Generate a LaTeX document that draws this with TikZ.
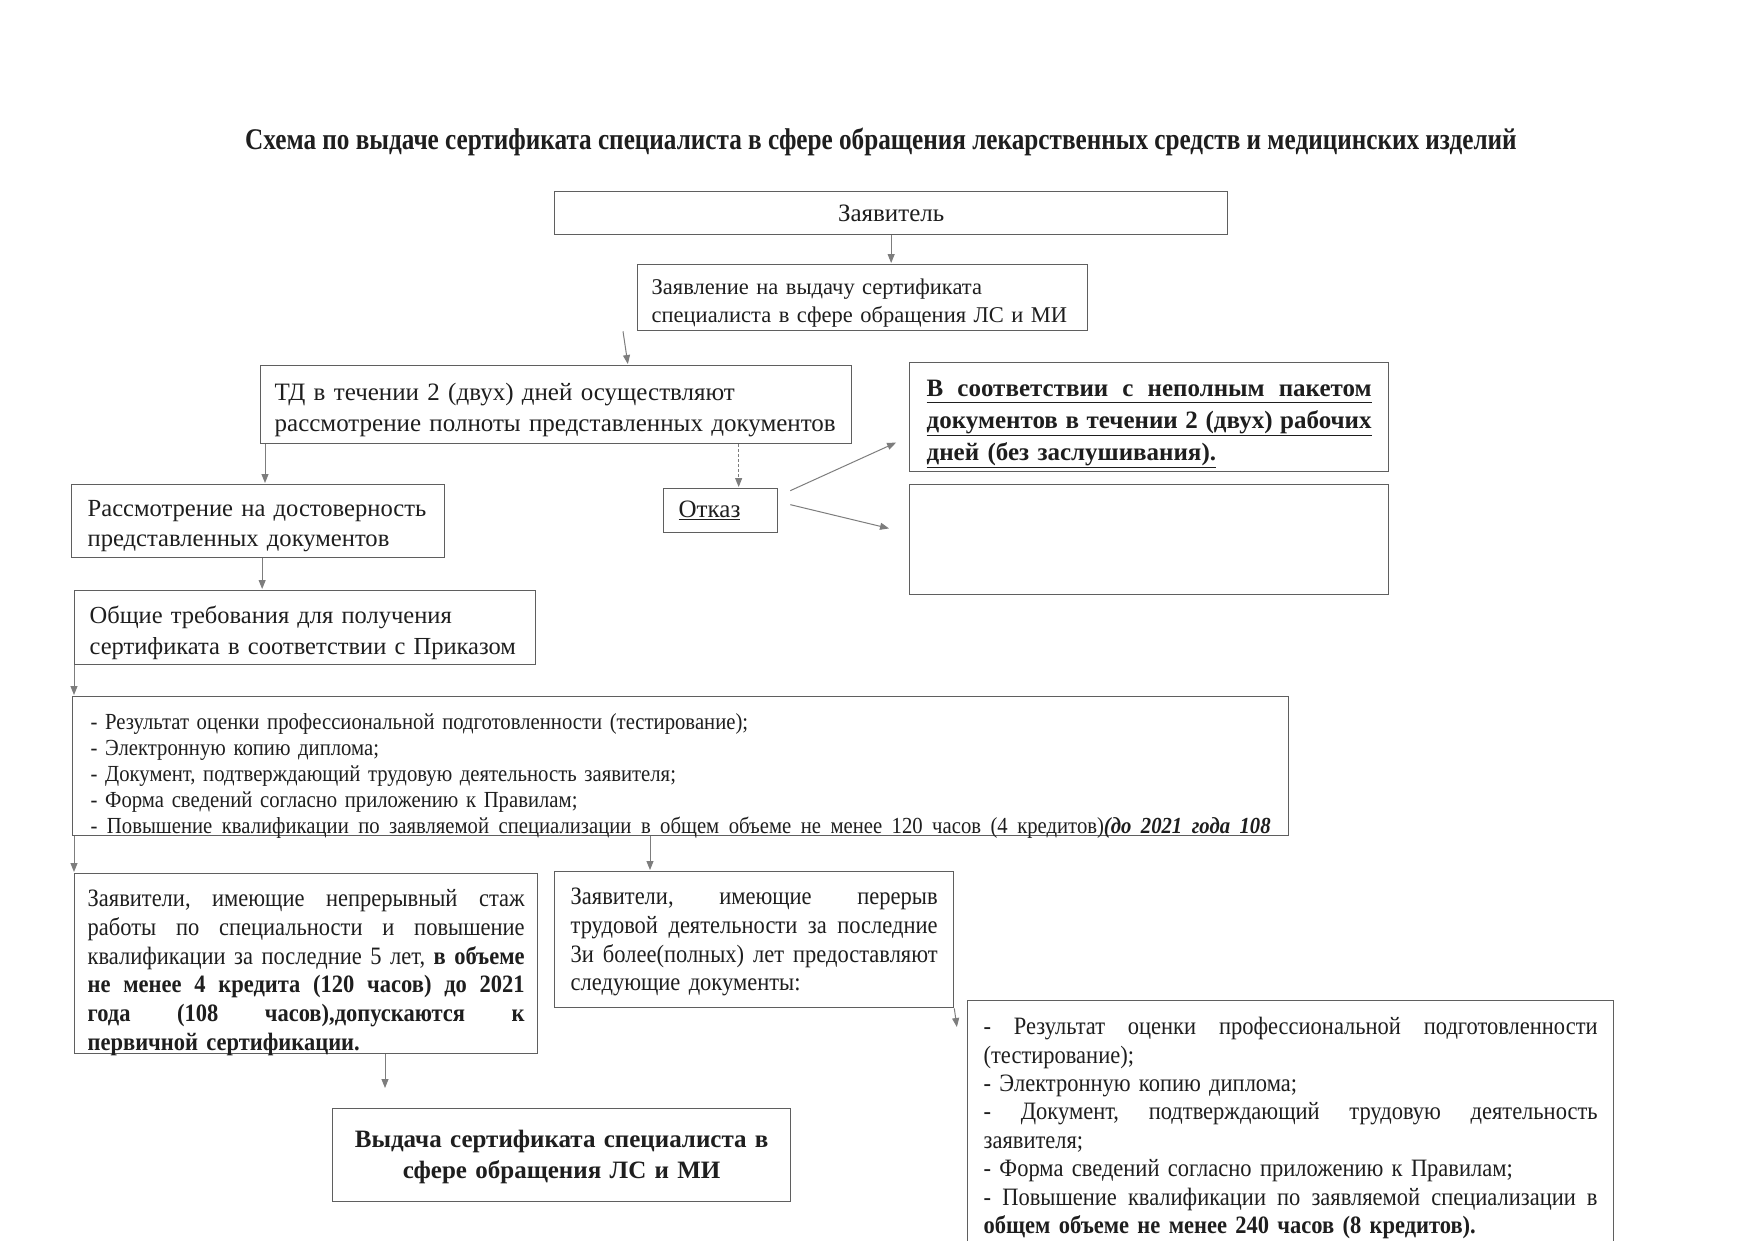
\documentclass[tikz,border=0pt]{standalone}
\usepackage{fontspec}
\setmainfont{Liberation Serif}
\newfontfamily\narrowfont[FakeStretch=0.9]{Liberation Serif}
\newfontfamily\titlefont[FakeStretch=0.84]{Liberation Serif}
\usetikzlibrary{arrows.meta,positioning,calc}
\definecolor{FrameGray}{RGB}{95,95,95}
\definecolor{ArrowGray}{RGB}{125,125,125}
\definecolor{InkBlack}{RGB}{30,30,30}
% justified line, first/last line room
\newcommand{\fullline}[1]{\makebox[\hsize][s]{\frenchspacing\spaceskip=0.25em plus 1fil\relax#1}}
\newcommand{\ulline}[1]{\underline{\fullline{\vphantom{д}#1}}}
\newcommand{\headroom}[1]{\rule{0pt}{#1}}
\newcommand{\footroom}[1]{\rule[-#1]{0pt}{0pt}}

\begin{document}
\begin{tikzpicture}[x=1pt,y=-1pt,
 box/.style={draw=FrameGray,line width=1.3pt,anchor=north west,align=left,
  inner xsep=15pt,inner ysep=0pt,text=InkBlack},
 arr/.style={draw=ArrowGray,line width=1pt,shorten >=1pt,
  -{Triangle[length=9pt,width=7pt]}}]
\useasboundingbox (0,0) rectangle (1755,1240);
\clip (0,0) rectangle (1755,1240);
\fill[white] (0,0) rectangle (1755,1240);

\node (title) [text=InkBlack,font=\titlefont\bfseries\fontsize{30}{34}\selectfont] at (881,142)
 {Схема по выдаче сертификата специалиста в сфере обращения лекарственных средств и медицинских изделий};

\node (applicant) [box,align=center,text width=643pt,minimum height=43pt,
 font=\fontsize{25}{30}\selectfont] at (554,191) {Заявитель};
\node (statement) [box,inner xsep=14pt,text width=422pt,
 font=\fontsize{22.5}{28}\selectfont] at (637,264)
 {\headroom{30pt}Заявление на выдачу сертификата\\
  специалиста в сфере обращения ЛС и МИ\footroom{8pt}};
\node (review) [box,inner xsep=14pt,text width=563pt,
 font=\fontsize{25}{31}\selectfont] at (260,365)
 {\headroom{35pt}ТД в течении 2 (двух) дней осуществляют\\
  рассмотрение полноты представленных документов\footroom{12pt}};
\node (incomplete) [box,inner xsep=17pt,text width=445pt,
 font=\bfseries\fontsize{25}{32}\selectfont] at (909,362)
 {\headroom{34pt}\ulline{В соответствии с неполным пакетом}\\
  \ulline{документов в течении 2 (двух) рабочих}\\
  \underline{дней (без заслушивания).}\footroom{11pt}};
\node (blank) [box,minimum width=479pt,minimum height=110pt] at (909,484) {};
\node (refusal) [box,text width=84pt,minimum height=44pt,
 font=\fontsize{25}{30}\selectfont] at (663,488) {\underline{Отказ}};
\node (check) [box,inner xsep=16pt,text width=341pt,
 font=\fontsize{24.6}{30}\selectfont] at (71,484)
 {\headroom{32pt}Рассмотрение на достоверность\\
  представленных документов\footroom{11pt}};
\node (general) [box,text width=431pt,
 font=\fontsize{24.5}{31}\selectfont] at (74,590)
 {\headroom{33pt}Общие требования для получения\\
  сертификата в соответствии с Приказом\footroom{10pt}};
\node (docs) [box,inner xsep=18pt,text width=1180pt,
 font=\narrowfont\fontsize{23}{26}\selectfont] at (72,696)
 {\headroom{33pt}- Результат оценки профессиональной подготовленности (тестирование);\\
  - Электронную копию диплома;\\
  - Документ, подтверждающий трудовую деятельность заявителя;\\
  - Форма сведений согласно приложению к Правилам;\\
  \smash{\fullline{- Повышение квалификации по заявляемой специализации в общем объеме не менее 120 часов (4 кредитов)\textbf{\textit{(до 2021 года 108}}}}\footroom{2pt}};
\node (continuous) [box,inner xsep=13pt,text width=437pt,
 font=\narrowfont\fontsize{25}{28.7}\selectfont] at (74,873)
 {\headroom{33pt}\fullline{Заявители, имеющие непрерывный стаж}\\
  \fullline{работы по специальности и повышение}\\
  \fullline{квалификации за последние 5 лет, \textbf{в объеме}}\\
  \fullline{\textbf{не менее 4 кредита (120 часов) до 2021}}\\
  \fullline{\textbf{года (108 часов),допускаются к}}\\
  \smash{\textbf{первичной сертификации.}}\footroom{3pt}};
\node (gap) [box,inner xsep=16pt,text width=367pt,
 font=\narrowfont\fontsize{25}{28.7}\selectfont] at (554,871)
 {\headroom{33pt}\fullline{Заявители, имеющие перерыв}\\
  \fullline{трудовой деятельности за последние}\\
  \fullline{3и более(полных) лет предоставляют}\\
  следующие документы:\footroom{17pt}};
\node (extra) [box,inner xsep=16pt,text width=614pt,
 font=\narrowfont\fontsize{25}{28.4}\selectfont] at (967,1000)
 {\headroom{34pt}\fullline{- Результат оценки профессиональной подготовленности}\\
  (тестирование);\\
  - Электронную копию диплома;\\
  \fullline{- Документ, подтверждающий трудовую деятельность}\\
  заявителя;\\
  - Форма сведений согласно приложению к Правилам;\\
  \fullline{- Повышение квалификации по заявляемой специализации в}\\
  \textbf{общем объеме не менее 240 часов (8 кредитов).}\footroom{40pt}};
\node (final) [box,align=center,text width=428pt,
 font=\bfseries\fontsize{25}{31}\selectfont] at (332,1108)
 {\headroom{39pt}Выдача сертификата специалиста в\\
  сфере обращения ЛС и МИ\footroom{23pt}};

% connectors
\coordinate (refusaltop) at ($(refusal.north)+(18,0)$);
\draw[arr] (applicant.south) -- (applicant.south |- statement.north);
\draw[arr] ([xshift=-14pt]statement.south west) -- ([xshift=368pt]review.north west);
\draw[arr,densely dashed] (review.south -| refusaltop) -- (refusaltop);
\draw[arr] ($(refusal.east)+(12,-20)$) -- ($(incomplete.west)+(-12,25)$);
\draw[arr] ($(refusal.east)+(12,-6)$) -- ($(blank.west)+(-19,-11)$);
\draw[arr] ([xshift=5pt]review.south west) -- ([xshift=5pt]review.south west |- check.north);
\draw[arr] ([xshift=4pt]check.south) -- ([xshift=4pt]check.south |- general.north);
\draw[arr] (general.south west) -- (general.south west |- docs.north);
\draw[arr] (continuous.north west |- docs.south) -- (continuous.north west);
\draw[arr] ([xshift=96pt]gap.north west |- docs.south) -- ([xshift=96pt]gap.north west);
\draw[arr] (gap.south east) -- ($(extra.north west)+(-10,28)$);
\draw[arr,shorten >=20pt] ([xshift=53pt]final.north west |- continuous.south) -- ([xshift=53pt]final.north west);
\end{tikzpicture}
\end{document}
